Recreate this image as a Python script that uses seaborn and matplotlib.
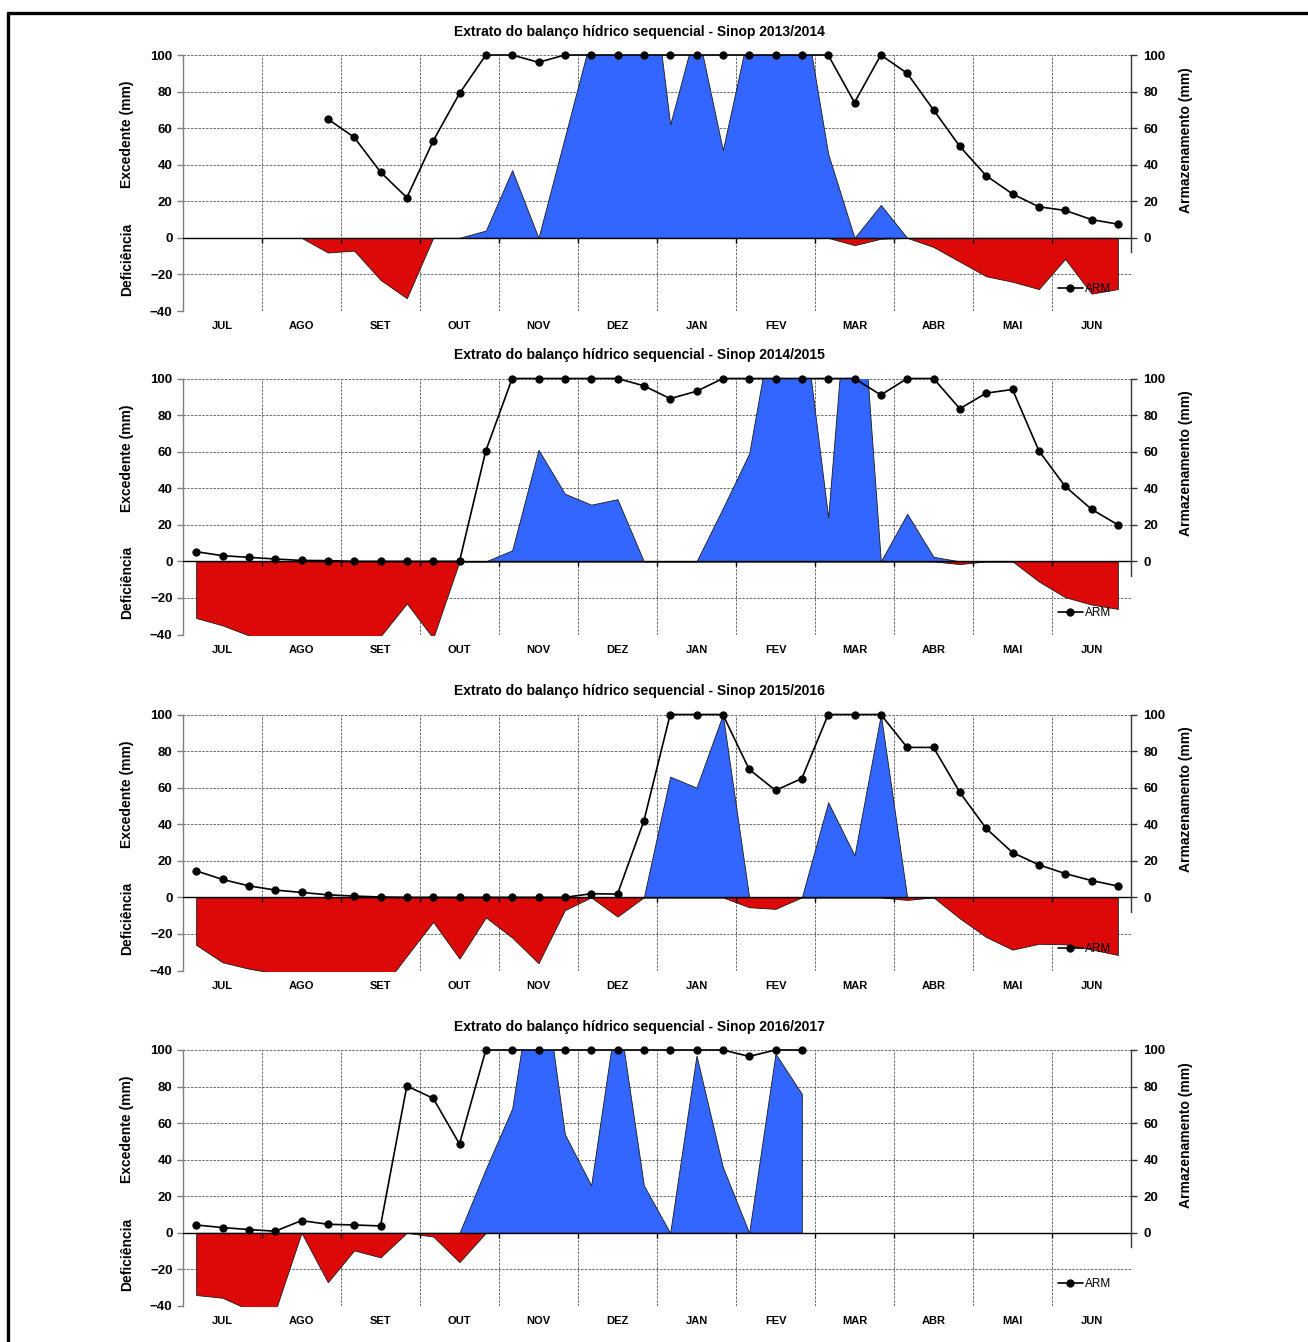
import numpy as np
import matplotlib
matplotlib.use("Agg")
import matplotlib.pyplot as plt
import seaborn as sns
from matplotlib.lines import Line2D

nan = np.nan

months = ["JUL", "AGO", "SET", "OUT", "NOV", "DEZ", "JAN", "FEV", "MAR", "ABR", "MAI", "JUN"]
seasons = ["2013/2014", "2014/2015", "2015/2016", "2016/2017"]

# ---- 2013/2014 (36 decendial periods, JUL..JUN) ----
arm_1314 = [nan, nan, nan, nan, nan, 65, 55, 36, 22, 53, 79, 100, 100, 96, 100, 100, 100, 100,
            100, 100, 100, 100, 100, 100, 100, 74, 100, 90, 70, 50, 34, 24, 17, 15, 10, 7.5]
exc_1314 = [nan, nan, nan, nan, nan, nan, nan, nan, nan, nan, 0, 4, 37, 0, 55, 110, 150, 180,
            62, 116, 48, 114, 130, 132, 46, 0, 18, 0, 0, 0, 0, 0, 0, 0, 0, 0]
def_1314 = [nan, nan, nan, nan, 0, -8, -7, -23, -33, 0, 0, 0, 0, 0, 0, 0, 0, 0,
            0, 0, 0, 0, 0, 0, 0, -4, -0.5, 0, -5, -13, -21, -24, -28, -11.5, -30.5, -28]

# ---- 2014/2015 ----
arm_1415 = [5.3, 3.1, 2.2, 1.3, 0.5, 0.4, 0, 0, 0, 0, 0, 60.5, 100, 100, 100, 100, 100, 96,
            89, 93, 100, 100, 100, 100, 100, 100, 91, 100, 100, 83.5, 92, 94, 60.5, 41, 28.5, 20]
exc_1415 = [0, 0, 0, 0, 0, 0, 0, 0, 0, 0, 0, 0, 6, 61, 37, 31, 34, 0,
            0, 0, 29, 59, 140, 140, 24, 200, 0, 26, 2.5, 0, 0, 0, 0, 0, 0, 0]
def_1415 = [-31, -35, -40.5, -44, -46, -46, -45, -41, -23, -42, 0, 0, 0, 0, 0, 0, 0, 0,
            0, 0, 0, 0, 0, 0, 0, 0, 0, 0, 0, -1.5, 0, 0, -11, -19.6, -23.6, -26]

# ---- 2015/2016 ----
arm_1516 = [14.5, 9.8, 6.3, 4, 2.7, 1.4, 0.7, 0.2, 0, 0, 0, 0, 0, 0, 0, 2, 1.8, 41.7,
            100, 100, 100, 70, 58.5, 65, 100, 100, 100, 82, 82, 57.4, 37.7, 24.5, 17.8, 13, 9.2, 6.2]
exc_1516 = [0, 0, 0, 0, 0, 0, 0, 0, 0, 0, 0, 0, 0, 0, 0, 0, 0, 0,
            66, 60, 100, 0, 0, 0, 52, 23, 100, 0, 0, 0, 0, 0, 0, 0, 0, 0]
def_1516 = [-26, -35.5, -39, -41.5, -45, -48, -50, -51, -32, -13.4, -33.5, -11, -22, -36, -7, 0, -10.5, 0,
            0, 0, 0, -5.4, -6.3, 0, 0, 0, 0, -1.4, 0, -11.5, -21.7, -28.6, -25.4, -25.7, -28.5, -31.5]

# ---- 2016/2017 ----
arm_1617 = [4.3, 2.9, 1.8, 0.9, 6.7, 4.7, 4.3, 3.8, 80.3, 73.6, 48.6, 100, 100, 100, 100, 100, 100, 100,
            100, 100, 100, 96.5, 100, 100, nan, nan, nan, nan, nan, nan, nan, nan, nan, nan, nan, nan]
exc_1617 = [0, 0, 0, 0, 0, 0, 0, 0, 0, 0, 0, 35, 68, 160, 54, 26, 124, 26,
            0, 97, 36, 0, 98, 76, nan, nan, nan, nan, nan, nan, nan, nan, nan, nan, nan, nan]
def_1617 = [-34, -35.5, -42, -43, 0, -27, -9.6, -13.4, 0, -2, -16, 0, 0, 0, 0, 0, 0, 0,
            0, 0, 0, 0, 0, 0, nan, nan, nan, nan, nan, nan, nan, nan, nan, nan, nan, nan]

arm_all = [arm_1314, arm_1415, arm_1516, arm_1617]
exc_all = [exc_1314, exc_1415, exc_1516, exc_1617]
def_all = [def_1314, def_1415, def_1516, def_1617]

sns.set_theme(style="white")
plt.rcParams['font.family'] = ['Liberation Sans', 'DejaVu Sans']
plt.rcParams['font.weight'] = 'bold'
plt.rcParams['text.color'] = 'black'
plt.rcParams['xtick.labelcolor'] = 'black'
plt.rcParams['ytick.labelcolor'] = 'black'

FW, FH = 1308, 1342
fig = plt.figure(figsize=(FW / 100, FH / 100), dpi=100)
fig.patch.set_facecolor('white')

# outer frame (top and left)
fig.add_artist(Line2D([8 / FW, 1.0], [1 - 13 / FH, 1 - 13 / FH], transform=fig.transFigure, color='black', lw=2.4))
fig.add_artist(Line2D([8 / FW, 8 / FW], [0, 1 - 13 / FH], transform=fig.transFigure, color='black', lw=2.4))

tops = [55, 378.5, 714.5, 1050]
L, Wd, Hp = 183, 948, 256
x = np.arange(36) + 0.5

for k in range(4):
    top = tops[k]
    ax = fig.add_axes([L / FW, 1 - (top + Hp) / FH, Wd / FW, Hp / FH])
    exc = np.array(exc_all[k], dtype=float)
    dfc = np.array(def_all[k], dtype=float)
    arm = np.array(arm_all[k], dtype=float)

    ax.fill_between(x, 0, exc, facecolor='#3366FF', edgecolor='#1a1a1a', lw=0.6, zorder=2)
    ax.fill_between(x, 0, dfc, facecolor='#DD0808', edgecolor='#1a1a1a', lw=0.6, zorder=2)

    ax.set_xlim(0, 36)
    ax.set_ylim(-40, 100)
    ax.set_xticks(np.arange(0, 37, 3))
    ax.set_xticklabels([])
    ax.set_xticks(np.arange(1.5, 36, 3), minor=True)
    ax.set_xticklabels(months, minor=True, fontsize=8, fontweight='bold')
    ax.tick_params(axis='x', which='both', length=0, bottom=False)
    ax.tick_params(axis='x', which='minor', pad=7.5)
    ax.set_yticks(np.arange(-40, 101, 20))
    ax.tick_params(axis='y', direction='out', length=4.5, width=1, color='#808080',
                   labelsize=9.5, pad=3, left=True)
    for lab in ax.get_yticklabels():
        lab.set_fontweight('bold')
    ax.grid(True, which='major', color='#555555', linestyle=(0, (3, 1.5)), lw=0.6)
    ax.set_axisbelow(True)
    for s in ['top', 'right', 'bottom']:
        ax.spines[s].set_visible(False)
    ax.spines['left'].set_color('#808080')
    ax.spines['left'].set_linewidth(1)
    ax.axhline(0, color='black', lw=1, zorder=3)
    ax.vlines(np.arange(3, 36, 3), -2.7, 0, color='black', lw=1, zorder=3)

    ax2 = ax.twinx()
    ax2.set_ylim(-40, 100)
    sns.lineplot(x=x, y=arm, ax=ax2, color='black', marker='o', markersize=5.2,
                 markeredgecolor='black', lw=1.2, label='ARM', zorder=5)
    for ln in ax2.lines:
        ln.set_clip_on(False)
    ax2.set_yticks(np.arange(0, 101, 20))
    ax2.tick_params(axis='y', direction='out', length=4, width=1, color='#333333',
                    labelsize=9.5, pad=5, right=True)
    for lab in ax2.get_yticklabels():
        lab.set_fontweight('bold')
    ax2.grid(False)
    ax2.set_xlabel('')
    ax2.set_ylabel('')
    for s in ['top', 'left', 'bottom']:
        ax2.spines[s].set_visible(False)
    ax2.spines['right'].set_color('#333333')
    ax2.spines['right'].set_linewidth(1)
    ax2.spines['right'].set_bounds(-8, 100)
    leg = ax2.legend(loc='center left', bbox_to_anchor=(0.9227, 0.085), frameon=False,
                     prop={'size': 8.5, 'weight': 'normal'}, handlelength=2.1, handletextpad=0.2,
                     borderpad=0, borderaxespad=0, labelcolor='black')

    ax.text(0.482, 1.09, 'Extrato do balanço hídrico sequencial - Sinop ' + seasons[k],
            transform=ax.transAxes, ha='center', va='center', fontsize=10, fontweight='bold')
    ax.text(-0.059, 0.69, 'Excedente (mm)', transform=ax.transAxes, rotation=90,
            ha='center', va='center', fontsize=10, fontweight='bold')
    ax.text(-0.059, 0.203, 'Deficiência', transform=ax.transAxes, rotation=90,
            ha='center', va='center', fontsize=10, fontweight='bold')
    ax.text(1.0577, 0.668, 'Armazenamento (mm)', transform=ax.transAxes, rotation=90,
            ha='center', va='center', fontsize=10, fontweight='bold')

fig.savefig('out.png', dpi=100, facecolor='white')
